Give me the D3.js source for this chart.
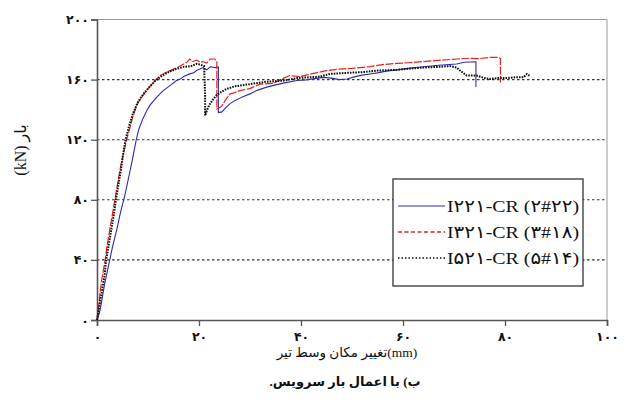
<html>
<head>
  <meta charset="utf-8" />
  <script src="https://cdnjs.cloudflare.com/ajax/libs/d3/7.8.5/d3.min.js"></script>
  <style>
    body { margin: 0; background: #fff; }
    text { font-family: "Liberation Serif", "DejaVu Sans", serif; fill: #111; }
    .tick-lbl { font-family: "DejaVu Sans", sans-serif; font-weight: bold; font-size: 12.5px; }
  </style>
</head>
<body>
  <svg width="625" height="417"></svg>
  <script>
  // tick values and their Persian labels
  var yTicks = [0, 40, 80, 120, 160, 200];
  var yTickLabels = ["۰", "۴۰", "۸۰", "۱۲۰", "۱۶۰", "۲۰۰"];
  var xTicks = [0, 20, 40, 60, 80, 100];
  var xTickLabels = ["۰", "۲۰", "۴۰", "۶۰", "۸۰", "۱۰۰"];

  var seriesNames = ["I۲۲۱-CR (۲#۲۲)", "I۳۲۱-CR (۳#۱۸)", "I۵۲۱-CR (۵#۱۴)"];

  // [deflection mm, load kN]
  var i221 = [[0,0],[0.5,5],[1,14],[1.5,24],[2,32],[2.5,40],[3,48],[3.5,55],[4,62],[4.5,70],[5,77],[5.4,82],
    [5.9,90],[6.4,98],[6.9,106],[7.3,113],[7.7,120],[8.2,127],[9,134],[9.7,139],[10.4,143],[11.5,147.5],
    [12.2,150],[13,152.7],[14.3,156],[15.6,159.4],[16.4,160.5],[17,162],[18.2,163.8],[19,164.5],[19.5,166],
    [20.8,168],[21.5,166.5],[22.2,168.5],[23.2,168],[23.8,168.5],[23.8,138],[24.5,138.5],[25.3,141.5],
    [26.1,144],[27,146],[28.5,148.5],[30,150.5],[31.5,153],[33.3,155],[35,156.5],[37,158],[39.2,159.4],
    [41,159.8],[43,160.8],[44.4,161.5],[46,161],[47.5,160],[49,160.4],[50.5,161.8],[52,163],[53.5,163.7],
    [55,164.5],[57,165.8],[58.8,166.5],[61,167.5],[64,168.6],[67,169.5],[70.5,170.4],[72,171.5],
    [74.3,171.9],[74.3,155]];

  var i321 = [[0,0],[0.3,8],[0.6,18],[0.9,26],[1.3,34],[1.6,40],[2,50],[2.5,60],[3,70],[3.5,80],[4,90],
    [4.5,100],[5,108],[5.5,115],[5.8,120],[6.3,126],[7,135],[7.8,143],[8.7,148],[9.7,152.7],[11,158],
    [12.4,162.7],[13.7,165],[15,167],[16.3,169],[17.6,171.5],[18.2,173.7],[18.8,172],[19.5,173],
    [20.3,171.5],[20.8,172],[21.5,171],[22.2,173.7],[23.1,173.7],[23.5,172],[23.5,140.5],[24.1,141.5],
    [24.5,142.7],[25.3,147],[26.1,150.5],[26.7,151],[28,152.7],[30,154],[30.6,155],[32,157],[34.6,157.5],
    [36,160],[37.8,162.7],[39.8,162],[41,163],[43,164.5],[45,166],[47.6,167],[50,167.5],[53.5,168.6],
    [56,170],[58.8,170.8],[61,171.2],[64,172],[67,172.8],[70.5,173.7],[73,174.2],[75,174],[77,174.8],
    [78.7,174.8],[79.1,174],[79.1,158]];

  var i521 = [[0,0],[0.5,10],[1,20],[1.5,30],[1.8,40],[2.3,50],[2.8,60],[3.3,70],[3.7,80],[4.2,90],
    [4.7,100],[5.1,110],[5.6,120],[6.2,128],[7,137],[8,145],[9,150],[10,154],[11.2,158.5],[12.5,162],
    [14,165],[15.5,167],[17,168.5],[18.5,169],[19.5,170.5],[20.2,170],[21,169],[21.2,150],[21.2,136],
    [21.6,140],[22,143],[22.8,147],[23.5,150],[24.5,152],[25.4,153.8],[27,155.5],[30,157],[33,158.5],
    [36.5,159.3],[39.2,161],[43.7,162],[45.7,163.8],[49,164.5],[52.2,165],[55,166],[58.8,166.5],
    [61,167.2],[64,168],[67,168.5],[69.2,169],[70.5,168],[71.2,166],[72.5,162.7],[74.4,162.7],[76,161],
    [77,160.4],[79,161.2],[80.3,161],[82,161.5],[83.6,161.5],[84.3,163.7],[84.8,162.7]];

  var svg = d3.select("svg");
  var xScale = d3.scaleLinear().domain([0, 100]).range([97, 607]);
  var yScale = d3.scaleLinear().domain([0, 200]).range([320, 19.5]);

  // dotted gridlines
  svg.selectAll(".grid").data([40, 80, 120, 160]).enter().append("line")
    .attr("x1", xScale(0)).attr("x2", xScale(100))
    .attr("y1", d => yScale(d)).attr("y2", d => yScale(d))
    .attr("stroke", "#333").attr("stroke-width", 1.1).attr("stroke-dasharray", "2.5,2.5");

  // frame: top and right in light grey
  svg.append("line").attr("x1", xScale(0)).attr("x2", xScale(100))
    .attr("y1", yScale(200)).attr("y2", yScale(200)).attr("stroke", "#999").attr("stroke-width", 1.2);
  svg.append("line").attr("x1", xScale(100)).attr("x2", xScale(100))
    .attr("y1", yScale(200)).attr("y2", yScale(0)).attr("stroke", "#aaa").attr("stroke-width", 1.2);

  // axes
  var yAxis = d3.axisLeft(yScale).tickValues(yTicks).tickSize(6).tickFormat((d, i) => yTickLabels[i]);
  var xAxis = d3.axisBottom(xScale).tickValues(xTicks).tickSize(6).tickFormat((d, i) => xTickLabels[i]);
  var gy = svg.append("g").attr("transform", "translate(" + xScale(0) + ",0)").call(yAxis);
  var gx = svg.append("g").attr("transform", "translate(0," + yScale(0) + ")").call(xAxis);
  [gx, gy].forEach(g => {
    g.select(".domain").attr("stroke", "#555").attr("stroke-width", 1.6);
    g.selectAll(".tick line").attr("stroke", "#555").attr("stroke-width", 1.3);
    g.selectAll(".tick text").attr("class", "tick-lbl").attr("fill", "#111");
  });
  gy.selectAll(".tick text").attr("x", -8);
  gx.selectAll(".tick text").attr("y", 12);

  // curves
  var line = d3.line().x(d => xScale(d[0])).y(d => yScale(d[1]));
  svg.append("path").attr("d", line(i221)).attr("fill", "none")
    .attr("stroke", "#2c2cb0").attr("stroke-width", 1.1);
  svg.append("path").attr("d", line(i321)).attr("fill", "none")
    .attr("stroke", "#e8201c").attr("stroke-width", 1.2).attr("stroke-dasharray", "8,1.5");
  svg.append("path").attr("d", line(i521)).attr("fill", "none")
    .attr("stroke", "#111").attr("stroke-width", 2).attr("stroke-dasharray", "1.6,1.1");

  // legend
  var legend = svg.append("g");
  legend.append("rect").attr("x", 393).attr("y", 179).attr("width", 190).attr("height", 107)
    .attr("fill", "#fff").attr("stroke", "#333").attr("stroke-width", 1.3);
  var legStyles = [
    { color: "#2c2cb0", dash: null, w: 1.2 },
    { color: "#e8201c", dash: "4,2.5", w: 1.3 },
    { color: "#111", dash: "1.5,2", w: 1.4 }
  ];
  seriesNames.forEach((name, i) => {
    var yy = 206 + i * 26;
    legend.append("line").attr("x1", 398).attr("x2", 445).attr("y1", yy).attr("y2", yy)
      .attr("stroke", legStyles[i].color).attr("stroke-width", legStyles[i].w)
      .attr("stroke-dasharray", legStyles[i].dash);
    legend.append("text").attr("x", 447).attr("y", yy + 6).attr("font-size", 17)
      .attr("textLength", 132).attr("lengthAdjust", "spacingAndGlyphs").text(name);
  });

  // titles
  svg.append("text").attr("x", 347).attr("y", 357).attr("text-anchor", "middle")
    .attr("font-family", "DejaVu Sans").attr("font-size", 13.5)
    .text("تغییر مکان وسط تیر(mm)");
  svg.append("text").attr("x", 345).attr("y", 386).attr("text-anchor", "middle")
    .attr("direction", "rtl")
    .attr("font-family", "DejaVu Sans").attr("font-size", 13).attr("font-weight", "bold")
    .text("ب) با اعمال بار سرویس.");
  svg.append("text").attr("transform", "translate(26,150) rotate(-90)").attr("text-anchor", "middle")
    .attr("font-size", 16).text("(kN) بار");
  </script>
</body>
</html>
